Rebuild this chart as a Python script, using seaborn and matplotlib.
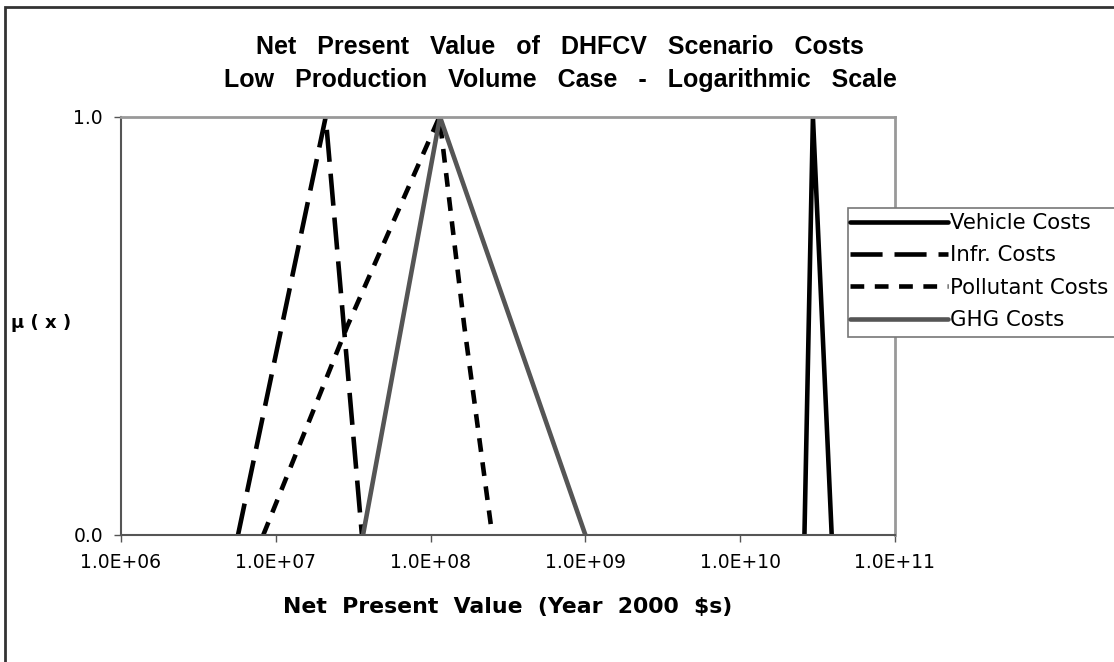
import numpy as np
import pandas as pd
import matplotlib
matplotlib.use("Agg")
import matplotlib.pyplot as plt
from matplotlib.patches import Rectangle
import seaborn as sns

sns.set_style("white")
plt.rcParams['font.family'] = ['DejaVu Sans']
plt.rcParams['text.color'] = 'black'

# fuzzy membership triangles (low, peak, high) in year-2000 dollars
series = ["Vehicle Costs", "Infr. Costs", "Pollutant Costs", "GHG Costs"]
vehicle_x = [2.6e10, 2.95e10, 3.9e10]
infr_x = [5.7e6, 2.1e7, 3.6e7]
pollutant_x = [8.3e6, 2.9e7, 1.14e8, 1.65e8, 2.5e8]
ghg_x = [3.66e7, 1.15e8, 1.0e9]
tri_mu = [0.0, 1.0, 0.0]
pollutant_mu = [0.0, 0.5, 1.0, 0.5, 0.0]

rows = []
for name, xs, ys in [(series[0], vehicle_x, tri_mu),
                     (series[1], infr_x, tri_mu),
                     (series[2], pollutant_x, pollutant_mu),
                     (series[3], ghg_x, tri_mu)]:
    for a, b in zip(xs, ys):
        rows.append({"series": name, "npv": a, "mu": b})
df = pd.DataFrame(rows)

colors = {"Vehicle Costs": "black", "Infr. Costs": "black",
          "Pollutant Costs": "black", "GHG Costs": "#555555"}
dashes = {"Vehicle Costs": "", "Infr. Costs": (7, 2.6),
          "Pollutant Costs": (3, 2.3), "GHG Costs": ""}

fig = plt.figure(figsize=(11.14, 6.62), dpi=100)
ax = fig.add_axes([121 / 1114, 1 - 535 / 662, (895 - 121) / 1114, (535 - 117) / 662])

sns.lineplot(data=df, x="npv", y="mu", hue="series", style="series",
             hue_order=series, style_order=series, palette=colors,
             dashes=dashes, sort=False, estimator=None, units="series",
             linewidth=3.3, legend=False, ax=ax)

ax.set_xscale("log")
ax.set_xlim(1e6, 1e11)
ax.set_ylim(0, 1)
ax.set_xticks([1e6, 1e7, 1e8, 1e9, 1e10, 1e11])
ax.set_xticklabels(["1.0E+06", "1.0E+07", "1.0E+08", "1.0E+09", "1.0E+10", "1.0E+11"])
ax.xaxis.set_minor_locator(matplotlib.ticker.NullLocator())
ax.set_yticks([0, 1])
ax.set_yticklabels(["0.0", "1.0"])
ax.tick_params(axis="both", labelsize=13.5, direction="out", length=5,
               width=1, color="#555555", labelcolor="black", pad=8,
               bottom=True, left=True)
ax.set_xlabel("")
ax.set_ylabel("")

for side in ["top", "right"]:
    ax.spines[side].set_color("#999999")
    ax.spines[side].set_linewidth(2)
for side in ["left", "bottom"]:
    ax.spines[side].set_color("#555555")
    ax.spines[side].set_linewidth(1.5)

# legend runs off the right edge, as in the original
handles = ax.lines[:4]
leg = fig.legend(handles, series, loc="upper left",
                 bbox_to_anchor=(850 / 1114, 1 - 213 / 662),
                 fontsize=15.3, frameon=False,
                 handlelength=4.6, handletextpad=0.1, borderpad=0.0,
                 labelspacing=0.58, borderaxespad=0)
fig.patches.append(Rectangle((848 / 1114, 1 - 337 / 662), 0.3, (337 - 208) / 662,
                             transform=fig.transFigure, facecolor="white",
                             edgecolor="#777777", linewidth=1.2, zorder=2))

title_font = dict(family=["Liberation Sans", "DejaVu Sans"], fontsize=18,
                  fontweight="bold", ha="center", va="center")
fig.text(560 / 1114, 1 - 47 / 662, "Net   Present   Value   of   DHFCV   Scenario   Costs",
         **title_font)
fig.text(560 / 1114, 1 - 80 / 662, "Low   Production   Volume   Case   -   Logarithmic   Scale",
         **title_font)
fig.text(508 / 1114, 1 - 607 / 662, "Net  Present  Value  (Year  2000  $s)",
         ha="center", va="center", fontsize=15.8, fontweight="bold")
fig.text(11 / 1114, 1 - 323 / 662, "μ ( x )", ha="left", va="center",
         fontsize=13, fontweight="bold")

# outer chart border (bottom and right edges fall outside the image)
fig.patches.append(Rectangle((5 / 1114, -0.05), 1.0, 1.05 - 7 / 662,
                             transform=fig.transFigure, fill=False,
                             edgecolor="#333333", linewidth=2))

fig.savefig("out.png", dpi=100)
